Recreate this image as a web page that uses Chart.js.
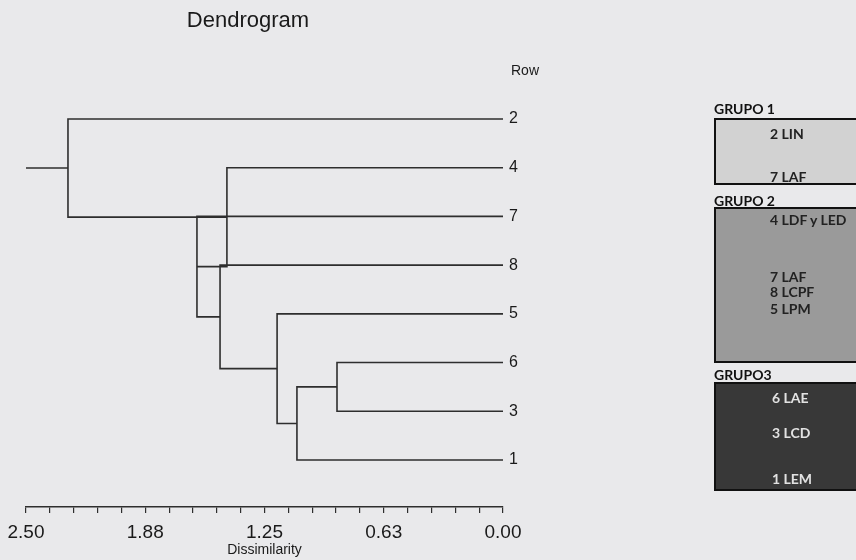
<!DOCTYPE html>
<html>
<head>
<meta charset="utf-8">
<script src="https://cdn.jsdelivr.net/npm/chart.js@4"></script>
<style>
  html, body { margin: 0; padding: 0; background: #e9e9eb; }
  #wrap { position: relative; width: 856px; height: 560px; overflow: hidden; }
  #wrap canvas { position: absolute; left: 0; top: 0; }
  .glabel { position: absolute; left: 714px; font: bold 14px Lato, "Open Sans", sans-serif; color: #111; line-height: 16px; }
  .gbox { position: absolute; left: 714px; width: 160px; border: 2px solid #111; box-sizing: border-box; }
  .gitem { position: absolute; left: 54px; font: bold 14px Lato, "Open Sans", sans-serif; line-height: 16px; white-space: nowrap; }
</style>
</head>
<body>
<div id="wrap">
  <canvas id="chart" width="856" height="560"></canvas>

  <div class="glabel" style="top:101px">GRUPO 1</div>
  <div class="gbox" style="top:118px;height:67px;background:#d2d2d2;color:#222">
    <div class="gitem" style="top:6px">2 LIN</div>
    <div class="gitem" style="top:49px">7 LAF</div>
  </div>

  <div class="glabel" style="top:193px">GRUPO 2</div>
  <div class="gbox" style="top:207px;height:156px;background:#9a9a9a;color:#222">
    <div class="gitem" style="top:3px">4 LDF y LED</div>
    <div class="gitem" style="top:60px">7 LAF</div>
    <div class="gitem" style="top:75px">8 LCPF</div>
    <div class="gitem" style="top:92px">5 LPM</div>
  </div>

  <div class="glabel" style="top:367px">GRUPO3</div>
  <div class="gbox" style="top:382px;height:109px;background:#383838;color:#e2e2e2">
    <div class="gitem" style="top:6px;left:56px">6 LAE</div>
    <div class="gitem" style="top:41px;left:56px">3 LCD</div>
    <div class="gitem" style="top:87px;left:56px">1 LEM</div>
  </div>
</div>

<script>
// leaves, top to bottom
const rowLabels = ['2', '4', '7', '8', '5', '6', '3', '1'];

// merge steps (m1 = first merge, ...)
const mergeLeft = ['6', 'm1', '5', '8', '7', '4', '2'];
const mergeRight = ['3', '1', 'm2', 'm3', 'm4', 'm5', 'm6'];
const mergeHeight = [0.87, 1.08, 1.184, 1.483, 1.604, 1.447, 2.28];

const axisMax = 2.5;
const tickValues = [0, 0.625, 1.25, 1.875, 2.5];
const tickLabels = ['0.00', '0.63', '1.25', '1.88', '2.50'];

const lineColor = '#2e2e2e';

// position (row index) and height of every node
const nodePos = {};
const nodeHeight = {};
rowLabels.forEach((r, i) => { nodePos[r] = i; nodeHeight[r] = 0; });

const datasets = [];
mergeHeight.forEach((h, i) => {
  const a = mergeLeft[i], b = mergeRight[i];
  const name = 'm' + (i + 1);
  nodePos[name] = (nodePos[a] + nodePos[b]) / 2;
  nodeHeight[name] = h;
  datasets.push({
    data: [
      { x: nodeHeight[a], y: nodePos[a] },
      { x: h, y: nodePos[a] },
      { x: h, y: nodePos[b] },
      { x: nodeHeight[b], y: nodePos[b] }
    ]
  });
});
// root stub out to the end of the axis
const root = 'm' + mergeHeight.length;
datasets.push({
  data: [{ x: nodeHeight[root], y: nodePos[root] }, { x: axisMax, y: nodePos[root] }]
});
datasets.forEach(d => {
  d.showLine = true;
  d.borderColor = lineColor;
  d.borderWidth = 1.6;
  d.pointRadius = 0;
  d.tension = 0;
  d.clip = false;
});

const textPlugin = {
  id: 'texts',
  afterDraw(chart) {
    const ctx = chart.ctx;
    ctx.save();
    ctx.fillStyle = '#1a1a1a';
    ctx.textAlign = 'center';
    ctx.textBaseline = 'middle';
    ctx.font = '22px "Liberation Sans", Arial, sans-serif';
    ctx.fillText('Dendrogram', 248, 21);
    ctx.font = '14px "Liberation Sans", Arial, sans-serif';
    ctx.fillText('Row', 525, 71);
    ctx.restore();
  }
};

new Chart(document.getElementById('chart'), {
  type: 'scatter',
  data: { datasets: datasets },
  plugins: [textPlugin],
  options: {
    responsive: false,
    animation: false,
    layout: { padding: { left: 26, right: 329, top: 94.6, bottom: 1 } },
    plugins: { legend: { display: false }, tooltip: { enabled: false } },
    scales: {
      x: {
        type: 'linear',
        position: 'bottom',
        reverse: true,
        min: 0,
        max: axisMax,
        afterFit(scale) {
          scale.height = 52;
          scale.paddingLeft = 0;
          scale.paddingRight = 0;
        },
        border: { display: true, color: lineColor, width: 1.5 },
        grid: { drawOnChartArea: false, drawTicks: true, tickLength: 6, color: lineColor, lineWidth: 1.2 },
        ticks: {
          stepSize: 0.125,
          autoSkip: false,
          maxRotation: 0,
          padding: 10,
          color: '#1a1a1a',
          font: { family: '"Liberation Sans", Arial, sans-serif', size: 19, lineHeight: 1 },
          callback(v) {
            const k = tickValues.findIndex(t => Math.abs(t - v) < 1e-6);
            return k >= 0 ? tickLabels[k] : '';
          }
        },
        title: {
          display: true,
          text: 'Dissimilarity',
          color: '#1a1a1a',
          padding: 0,
          font: { family: '"Liberation Sans", Arial, sans-serif', size: 14 }
        }
      },
      y: {
        type: 'linear',
        position: 'right',
        reverse: true,
        min: -0.5,
        max: 7.965,
        afterFit(scale) { scale.width = 24; },
        afterBuildTicks(scale) { scale.ticks = rowLabels.map((_, i) => ({ value: i })); },
        border: { display: false },
        grid: { display: false, drawTicks: false },
        ticks: {
          padding: 6,
          color: '#1a1a1a',
          font: { family: '"Liberation Sans", Arial, sans-serif', size: 16 },
          callback(v) { return rowLabels[v]; }
        }
      }
    }
  }
});
</script>
</body>
</html>
